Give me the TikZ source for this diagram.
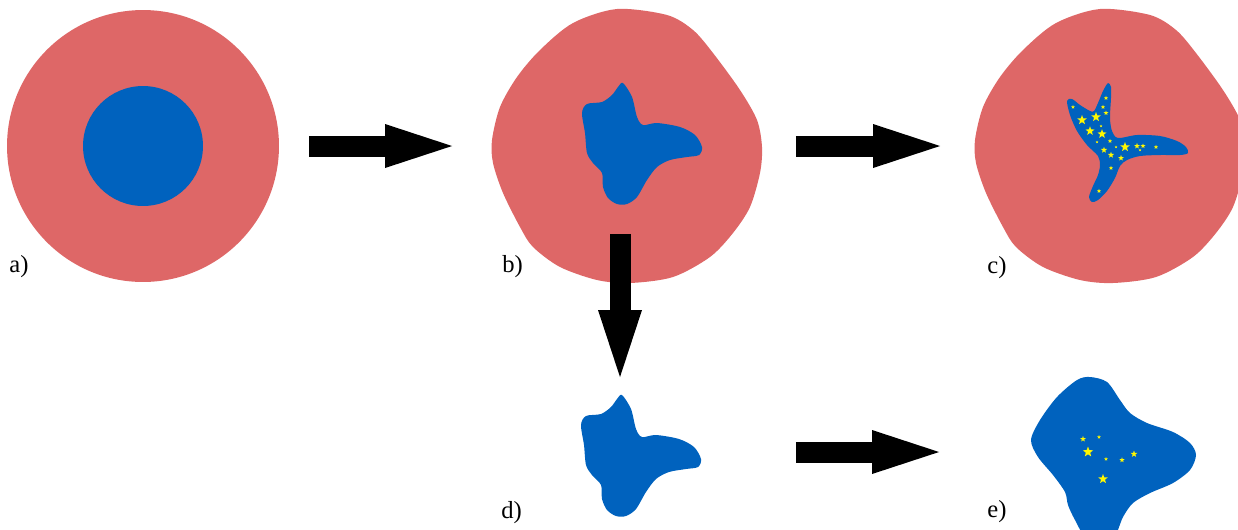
\documentclass[tikz,border=0pt]{standalone}
\usepackage{fontspec}
\setmainfont{Liberation Serif}
\usepackage{tikz}
\usetikzlibrary{arrows.meta,shapes.geometric,positioning}

\definecolor{cellred}{RGB}{222,103,103}
\definecolor{nucblue}{RGB}{0,98,190}
\definecolor{dotyellow}{RGB}{255,248,0}

\newcommand{\cellpath}{plot[smooth cycle] coordinates {(617,9) (667,15) (693,30) (713,53) (740,90) (757,120) (762,147) (760,173) (750,207) (733,233) (710,257) (673,277) (630,283) (597,280) (560,267) (533,247) (520,227) (503,193) (493,163) (492,140) (500,107) (517,77) (540,50) (573,23)}}
\newcommand{\nucpath}{plot[smooth cycle] coordinates {(623,83) (632,97) (637,117) (643,125) (657,123) (680,127) (695,135) (702,147) (699,155) (687,157) (670,160) (657,167) (647,180) (637,197) (627,204) (617,204) (608,198) (603,187) (602,173) (593,163) (587,153) (585,133) (582,113) (587,104) (602,102) (612,95) (618,87)}}

\begin{document}
\begin{tikzpicture}[x=0.02cm,y=-0.02cm]
\tikzstyle{cell}=[fill=cellred,draw=none]
\tikzstyle{nucleus}=[fill=nucblue,draw=none]
\tikzstyle{bigarrow}=[-{Triangle[length=1.34cm,width=0.88cm,line width=0pt]},line width=0.42cm,black]
\tikzstyle{tag}=[anchor=base west,inner sep=0pt,font=\fontsize{14}{16}\selectfont]
\tikzstyle{starlet}=[star,star points=5,star point ratio=2.4,fill=dotyellow,draw=none,inner sep=0pt]

\useasboundingbox (0,0) rectangle (1238,529);
\clip (0,0) rectangle (1238,529);

%a
\node[circle,cell,inner sep=0pt,minimum size=5.44cm] (cellA) at (143,146) {};
\node[circle,nucleus,inner sep=0pt,minimum size=2.4cm] (nucA) at (cellA) {};

%b
\coordinate (cellB) at (620,146);
\fill[cellred] \cellpath;
\fill[nucblue] \nucpath;

%c
\coordinate (cellC) at (1103,146);
\fill[cellred,shift={(483,0)}] \cellpath;
\fill[nucblue] plot[smooth cycle] coordinates {(1067,101) (1072,99) (1080,105) (1090,111) (1094,111) (1098,103) (1103,91) (1108,83) (1111,87) (1111,98) (1110,118) (1112,131) (1118,138) (1137,135) (1160,136) (1177,141) (1186,147) (1188,153) (1180,155) (1160,155) (1140,156) (1127,160) (1120,166) (1115,178) (1107,191) (1098,200) (1092,202) (1089,197) (1093,186) (1098,175) (1100,165) (1098,156) (1087,145) (1077,131) (1070,115)};
\foreach \x/\y/\s [count=\i] in {1073/107/0.08, 1106/98/0.09, 1103/107/0.09, 1106/113/0.1,
  1082/120/0.2, 1096/117/0.2, 1101/126/0.06, 1090/131/0.19, 1102/134/0.19,
  1097/142/0.06, 1110/141/0.09, 1104/150/0.13, 1116/147/0.06, 1125/147/0.2,
  1111/155/0.13, 1121/158/0.12, 1137/146/0.12, 1143/146/0.1, 1140/150/0.06,
  1156/147/0.09, 1111/168/0.09, 1099/191/0.09}
  \node[starlet,minimum size=\s cm] (starC\i) at (\x,\y) {};

%d
\coordinate (nucD) at (620,452);
\fill[nucblue,shift={(-1,312)}] \nucpath;

%e
\coordinate (cellE) at (1110,452);
\fill[nucblue] plot[smooth cycle] coordinates {(1090,377) (1077,380) (1057,397) (1040,420) (1031,440) (1038,457) (1053,475) (1065,492) (1068,505) (1075,520) (1088,540) (1112,540) (1123,517) (1133,503) (1150,493) (1173,483) (1190,470) (1196,455) (1190,443) (1173,432) (1147,423) (1130,413) (1120,400) (1107,382)};
\foreach \x/\y/\s [count=\i] in {1083/439/0.12, 1099/437/0.08, 1088/452/0.22,
  1106/459/0.08, 1122/460/0.11, 1134/454/0.14, 1103/479/0.2}
  \node[starlet,minimum size=\s cm] (starE\i) at (\x,\y) {};

%arrows
\draw[bigarrow,shorten <=0.6cm,shorten >=3.36cm] (cellA) -- (cellB);
\draw[bigarrow,shorten <=3.52cm,shorten >=3.26cm] (cellB) -- (cellC);
\draw[bigarrow,shorten <=1.76cm,shorten >=1.5cm] (cellB) -- (nucD);
\draw[bigarrow,shorten <=3.52cm,shorten >=3.42cm] (nucD) -- (cellE);

%labels
\node[tag] (tagA) at (9,272) {a)};
\node[tag] (tagB) at (502,272) {b)};
\node[tag] (tagC) at (987,273) {c)};
\node[tag] (tagD) at (501,518) {d)};
\node[tag] (tagE) at (987,517) {e)};

\end{tikzpicture}
\end{document}
